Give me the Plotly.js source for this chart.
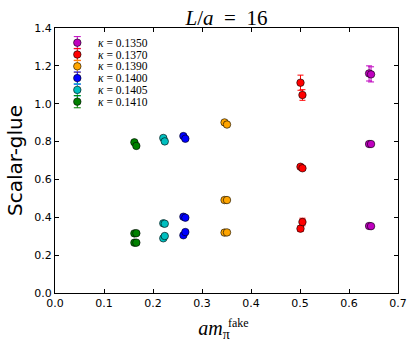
<!DOCTYPE html>
<html>
<head>
<meta charset="utf-8">
<script src="https://cdn.plot.ly/plotly-3.0.1.min.js"></script>
<style>
  html, body { margin: 0; padding: 0; background: #fff; }
  #chart { width: 416px; height: 346px; }
</style>
</head>
<body>
<div id="chart"></div>
<script>
// kappa values and matplotlib-like colours
const kappas = ["0.1350", "0.1370", "0.1390", "0.1400", "0.1405", "0.1410"];
const colors = ["#bf00bf", "#ff0000", "#ffa500", "#0000ff", "#00bfbf", "#008000"];

// two slightly shifted x positions per kappa
const xA = [0.641, 0.501, 0.346, 0.262, 0.221, 0.162];
const xB = [0.645, 0.505, 0.351, 0.266, 0.224, 0.166];

// y values at xA / xB (top, middle, bottom groups)
const yA = [
  [1.160, 0.787, 0.354],
  [1.111, 0.667, 0.340],
  [0.901, 0.491, 0.319],
  [0.829, 0.403, 0.305],
  [0.819, 0.368, 0.289],
  [0.796, 0.315, 0.266],
];
const yB = [
  [1.155, 0.787, 0.353],
  [1.046, 0.659, 0.375],
  [0.890, 0.491, 0.320],
  [0.815, 0.398, 0.322],
  [0.801, 0.366, 0.301],
  [0.777, 0.316, 0.266],
];
const errA = [
  [0.040, 0.008, 0.006],
  [0.040, 0.010, 0.015],
  [0.008, 0.006, 0.006],
  [0.008, 0.006, 0.006],
  [0.008, 0.006, 0.006],
  [0.008, 0.006, 0.006],
];
const errB = [
  [0.040, 0.008, 0.006],
  [0.028, 0.010, 0.020],
  [0.008, 0.006, 0.006],
  [0.008, 0.006, 0.006],
  [0.008, 0.006, 0.006],
  [0.008, 0.006, 0.006],
];

const xTicks = [0.0, 0.1, 0.2, 0.3, 0.4, 0.5, 0.6, 0.7];
const yTicks = [0.0, 0.2, 0.4, 0.6, 0.8, 1.0, 1.2, 1.4];

const serif = "Liberation Serif, DejaVu Serif, serif";

const data = [];
kappas.forEach((k, i) => {
  const xs = [], ys = [], es = [];
  yA[i].forEach((v, j) => {
    xs.push(xA[i]); ys.push(v); es.push(errA[i][j]);
    xs.push(xB[i]); ys.push(yB[i][j]); es.push(errB[i][j]);
  });
  data.push({
    type: "scatter",
    mode: "markers",
    x: xs,
    y: ys,
    error_y: { type: "data", array: es, visible: true, color: colors[i], thickness: 1, width: 3 },
    marker: { color: colors[i], size: 7.5, line: { color: "#000", width: 0.6 } },
    showlegend: false,
    hoverinfo: "skip",
  });
});

// hand-made legend (matplotlib style, compact rows) on an overlay axis
const legX = 0.065, legY0 = 0.9445, legStep = 0.0445;
const legYs = kappas.map((k, i) => legY0 - i * legStep);
kappas.forEach((k, i) => {
  data.push({
    type: "scatter",
    mode: "markers",
    x: [legX],
    y: [legYs[i]],
    xaxis: "x2",
    yaxis: "y2",
    error_y: { type: "constant", value: 0.023, visible: true, color: colors[i], thickness: 1, width: 3.5 },
    marker: { color: colors[i], size: 7.5, line: { color: "#000", width: 0.6 } },
    showlegend: false,
    hoverinfo: "skip",
  });
});

const annotations = kappas.map((k, i) => ({
  x: 0.12, y: legYs[i], xref: "x2", yref: "y2",
  xanchor: "left", yanchor: "middle",
  text: "<i>κ</i> = " + k,
  showarrow: false,
  font: { family: serif, size: 11.5, color: "#000" },
}));
// superscript of the x title, stacked over the pi subscript
annotations.push({
  x: 0.535, y: -0.113, xref: "paper", yref: "paper",
  xanchor: "center", yanchor: "middle",
  text: "fake", showarrow: false,
  font: { family: serif, size: 12, color: "#000" },
});

const axisBase = {
  showline: true, linecolor: "#000", linewidth: 1, mirror: "ticks",
  ticks: "inside", ticklen: 4, tickcolor: "#000", tickwidth: 1,
  showgrid: false, zeroline: false,
  tickfont: { family: "DejaVu Sans, sans-serif", size: 11, color: "#000" },
  fixedrange: true,
};

const layout = {
  width: 416,
  height: 346,
  margin: { l: 55, r: 18, t: 28, b: 53 },
  paper_bgcolor: "#fff",
  plot_bgcolor: "#fff",
  showlegend: false,
  title: {
    text: "<i>L</i>/<i>a</i> &nbsp;=&nbsp; 16",
    font: { family: serif, size: 21, color: "#000" },
    x: 0.5, xref: "paper", xanchor: "center",
    y: 0.948, yref: "container", yanchor: "middle",
  },
  xaxis: Object.assign({}, axisBase, {
    range: [0, 0.7],
    tickvals: xTicks,
    ticktext: xTicks.map((v) => v.toFixed(1)),
    title: {
      text: "<i>am</i><sub>π</sub>&nbsp;&nbsp;&nbsp;&nbsp;&nbsp;",
      font: { family: serif, size: 20, color: "#000" },
      standoff: 11,
    },
  }),
  yaxis: Object.assign({}, axisBase, {
    range: [0, 1.4],
    tickvals: yTicks,
    ticktext: yTicks.map((v) => v.toFixed(1)),
    title: {
      text: "Scalar-glue",
      font: { family: "DejaVu Sans, sans-serif", size: 20, color: "#000" },
      standoff: 6,
    },
  }),
  xaxis2: { overlaying: "x", anchor: "y2", range: [0, 1], visible: false, fixedrange: true },
  yaxis2: { overlaying: "y", anchor: "x2", range: [0, 1], visible: false, fixedrange: true },
  annotations,
};

Plotly.newPlot("chart", data, layout, { displayModeBar: false, staticPlot: true });
</script>
</body>
</html>
